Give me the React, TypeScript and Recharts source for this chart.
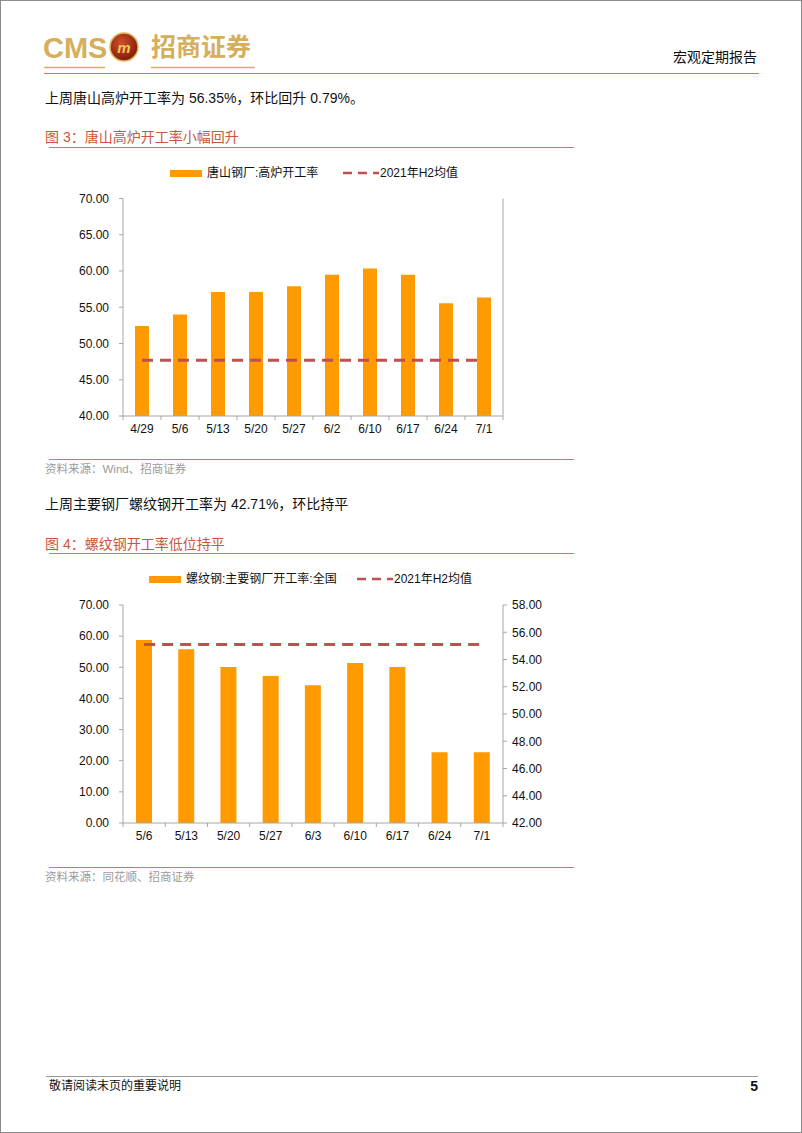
import React from 'react';
import { ComposedChart, Bar, Line, XAxis, YAxis } from 'recharts';

// ---------- data ----------
const cats1 = ['4/29', '5/6', '5/13', '5/20', '5/27', '6/2', '6/10', '6/17', '6/24', '7/1'];
const vals1 = [52.4, 54.0, 57.1, 57.1, 57.9, 59.5, 60.35, 59.5, 55.56, 56.35];
const avg1 = [47.7, 47.7, 47.7, 47.7, 47.7, 47.7, 47.7, 47.7, 47.7, 47.7];
const ticks1 = [40, 45, 50, 55, 60, 65, 70];

const cats2 = ['5/6', '5/13', '5/20', '5/27', '6/3', '6/10', '6/17', '6/24', '7/1'];
const vals2 = [58.8, 55.8, 50.1, 47.2, 44.2, 51.4, 50.1, 22.7, 22.7];
const avg2 = [55.1, 55.1, 55.1, 55.1, 55.1, 55.1, 55.1, 55.1, 55.1];
const ticksLeft2 = [0, 10, 20, 30, 40, 50, 60, 70];
const ticksRight2 = [42, 44, 46, 48, 50, 52, 54, 56, 58];

const data1 = cats1.map((c, i) => ({ cat: c, v: vals1[i], avg: avg1[i] }));
const data2 = cats2.map((c, i) => ({ cat: c, v: vals2[i], avg: avg2[i] }));

// ---------- style ----------
const FONT = '"Liberation Sans", Arial, "Noto Sans CJK SC", sans-serif';
const ORANGE = '#FF9A00';
const RED_DASH = '#C0504D';
const AXIS = '#A6A6A6';
const TITLE = '#C8573B';
const RULE = '#E0705A';
const GOLD = '#D5AE5E';

const fmt = (v: number) => v.toFixed(2);

const makeTick = (half: number, n: number) => (p: any) => {
  const { x, y, payload, index } = p;
  const h = payload && typeof payload.offset === 'number' && payload.offset > 0 ? payload.offset : half;
  return (
    <g>
      <line x1={x - h} x2={x - h} y1={y - 8} y2={y - 4} stroke={AXIS} strokeWidth={1} />
      {index === n - 1 && <line x1={x + h} x2={x + h} y1={y - 8} y2={y - 4} stroke={AXIS} strokeWidth={1} />}
      <text x={x} y={y} dy="0.71em" textAnchor="middle" fontSize={12} fill="#111" fontFamily={FONT}>
        {payload.value}
      </text>
    </g>
  );
};

const Txt = ({ x, y, size, color, children, weight, align }: any) => (
  <div
    style={{
      position: 'absolute',
      left: align === 'right' ? undefined : x,
      right: align === 'right' ? 802 - x : undefined,
      top: y - 10,
      height: 20,
      lineHeight: '20px',
      fontSize: size,
      color: color || '#111',
      fontWeight: weight || 400,
      fontFamily: FONT,
      whiteSpace: 'nowrap',
    }}
  >
    {children}
  </div>
);

const Rule = ({ x1, x2, y, color, w }: any) => (
  <div style={{ position: 'absolute', left: x1, top: y, width: x2 - x1, height: w || 1, background: color }} />
);

const LegendBox = ({ y, rectX, label, dashX, avgLabel }: any) => (
  <>
    <div style={{ position: 'absolute', left: rectX, top: y - 3.5, width: 32, height: 7, background: ORANGE }} />
    <Txt x={rectX + 37} y={y} size={12}>{label}</Txt>
    <svg style={{ position: 'absolute', left: dashX, top: y - 3 }} width={36} height={6}>
      <line x1={0} x2={36} y1={3} y2={3} stroke={RED_DASH} strokeWidth={2.5} strokeDasharray="9 6" />
    </svg>
    <Txt x={dashX + 37} y={y} size={12}>{avgLabel}</Txt>
  </>
);

const Logo = () => (
  <svg style={{ position: 'absolute', left: 0, top: 0 }} width={802} height={80}>
    <defs>
      <radialGradient id="emb" cx="40%" cy="35%" r="70%">
        <stop offset="0%" stopColor="#D0502A" />
        <stop offset="100%" stopColor="#7A1A08" />
      </radialGradient>
    </defs>
    <text x={42} y={57} fontSize={29} fontWeight={700} fill={GOLD} fontFamily={FONT}>CMS</text>
    <circle cx={123} cy={46} r={14} fill="url(#emb)" stroke="#E2B45A" strokeWidth={1.5} />
    <text x={123} y={52} fontSize={15} fontWeight={700} fontStyle="italic" fill="#F2C45A" textAnchor="middle" fontFamily={FONT}>m</text>
    <text x={150} y={55} fontSize={25} fontWeight={700} fill={GOLD} fontFamily='"Noto Sans CJK SC", sans-serif'>招商证券</text>
    <line x1={43} x2={104} y1={66.5} y2={66.5} stroke={GOLD} strokeWidth={1.5} />
    <line x1={150} x2={254} y1={66.5} y2={66.5} stroke={GOLD} strokeWidth={1.5} />
  </svg>
);

const Chart1 = () => (
  <div style={{ position: 'absolute', left: 40, top: 185 }}>
    <ComposedChart width={540} height={260} data={data1} margin={{ top: 12.5, right: 0, bottom: 0, left: 0 }} barCategoryGap={0}>
      <XAxis
        dataKey="cat"
        height={30}
        tickLine={false}
        tickSize={0}
        tickMargin={8}
        axisLine={{ stroke: AXIS }}
        interval={0}
        tick={makeTick(19, cats1.length)}
      />
      <YAxis
        yAxisId="left"
        orientation="left"
        width={82}
        domain={[40, 70]}
        ticks={ticks1}
        tickFormatter={fmt}
        axisLine={{ stroke: AXIS }}
        tickLine={{ stroke: AXIS }}
        tickSize={4}
        tickMargin={10}
        tick={{ fontSize: 12, fill: '#111', fontFamily: FONT }}
        interval={0}
      />
      <YAxis
        yAxisId="right"
        orientation="right"
        width={78}
        domain={[40, 70]}
        ticks={ticks1}
        tickFormatter={fmt}
        axisLine={{ stroke: AXIS }}
        tickLine={{ stroke: AXIS }}
        tickSize={4}
        tickMargin={5}
        tick={{ fontSize: 12, fill: '#111', fontFamily: FONT }}
        interval={0}
      />
      <Bar yAxisId="left" dataKey="v" fill={ORANGE} barSize={14} isAnimationActive={false} />
      <Line yAxisId="left" dataKey="avg" stroke={RED_DASH} strokeWidth={3} strokeDasharray="11 7" dot={false} activeDot={false} isAnimationActive={false} />
    </ComposedChart>
  </div>
);

const Chart2 = () => (
  <div style={{ position: 'absolute', left: 40, top: 590 }}>
    <ComposedChart width={540} height={262} data={data2} margin={{ top: 14, right: 0, bottom: 0, left: 0 }} barCategoryGap={0}>
      <XAxis
        dataKey="cat"
        height={30}
        tickLine={false}
        tickSize={0}
        tickMargin={8}
        axisLine={{ stroke: AXIS }}
        interval={0}
        tick={makeTick(21.1, cats2.length)}
      />
      <YAxis
        yAxisId="left"
        orientation="left"
        width={82}
        domain={[0, 70]}
        ticks={ticksLeft2}
        tickFormatter={fmt}
        axisLine={{ stroke: AXIS }}
        tickLine={{ stroke: AXIS }}
        tickSize={4}
        tickMargin={10}
        tick={{ fontSize: 12, fill: '#111', fontFamily: FONT }}
        interval={0}
      />
      <YAxis
        yAxisId="right"
        orientation="right"
        width={78}
        domain={[42, 58]}
        ticks={ticksRight2}
        tickFormatter={fmt}
        axisLine={{ stroke: AXIS }}
        tickLine={{ stroke: AXIS }}
        tickSize={4}
        tickMargin={5}
        tick={{ fontSize: 12, fill: '#111', fontFamily: FONT }}
        interval={0}
      />
      <Bar yAxisId="left" dataKey="v" fill={ORANGE} barSize={16} isAnimationActive={false} />
      <Line yAxisId="right" dataKey="avg" stroke={RED_DASH} strokeWidth={3} strokeDasharray="11 7" dot={false} activeDot={false} isAnimationActive={false} />
    </ComposedChart>
  </div>
);

export default function App() {
  return (
    <div
      style={{
        position: 'absolute',
        left: 0,
        top: 0,
        width: 802,
        height: 1133,
        background: '#fff',
        boxSizing: 'border-box',
        border: '1px solid #8c8c8c',
        fontFamily: FONT,
        overflow: 'hidden',
      }}
    >
      <Logo />
      <Txt x={758} y={56} size={14} align="right">宏观定期报告</Txt>
      <Rule x1={43} x2={758} y={72} color={RULE} />

      <Txt x={44} y={97} size={14}>上周唐山高炉开工率为 56.35%，环比回升 0.79%。</Txt>
      <Txt x={44} y={136} size={14} color={TITLE}>图 3：唐山高炉开工率小幅回升</Txt>
      <Rule x1={48} x2={573} y={146} color={RULE} />

      <LegendBox y={172} rectX={169} label="唐山钢厂:高炉开工率" dashX={342} avgLabel="2021年H2均值" />
      <Chart1 />
      <Rule x1={48} x2={573} y={458} color={RULE} />
      <Txt x={44} y={468} size={11.5} color="#9a9a9a">资料来源：Wind、招商证券</Txt>

      <Txt x={44} y={503} size={14}>上周主要钢厂螺纹钢开工率为 42.71%，环比持平</Txt>
      <Txt x={44} y={543} size={14} color={TITLE}>图 4：螺纹钢开工率低位持平</Txt>
      <Rule x1={48} x2={573} y={552} color={RULE} />

      <LegendBox y={578} rectX={148} label="螺纹钢:主要钢厂开工率:全国" dashX={356} avgLabel="2021年H2均值" />
      <Chart2 />
      <Rule x1={48} x2={573} y={866} color={RULE} />
      <Txt x={44} y={876} size={11.5} color="#9a9a9a">资料来源：同花顺、招商证券</Txt>

      <Rule x1={45} x2={757} y={1075} color="#9a9a9a" />
      <Txt x={48} y={1085} size={12}>敬请阅读末页的重要说明</Txt>
      <Txt x={759} y={1085} size={14} weight={700} align="right">5</Txt>
    </div>
  );
}
